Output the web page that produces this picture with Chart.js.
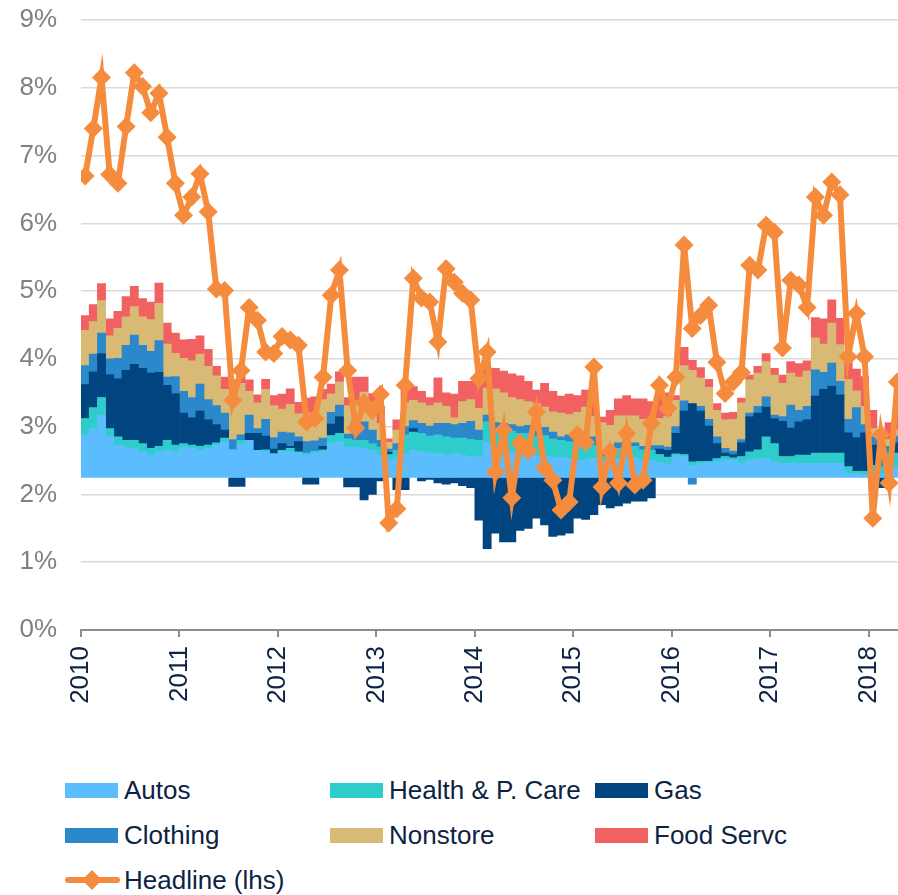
<!DOCTYPE html>
<html>
<head>
<meta charset="utf-8">
<script src="https://cdn.jsdelivr.net/npm/chart.js@4.4.1/dist/chart.umd.min.js"></script>
<style>
  html, body { margin: 0; padding: 0; background: #fff; overflow: hidden; }
  #wrap { position: relative; width: 898px; height: 895px; overflow: hidden; }
  #c { position: absolute; left: 0; top: 0; }
  .item { position: absolute; height: 30px; display: flex; align-items: center;
          font: 26px "Liberation Sans", Arial, sans-serif; color: #0d2344; white-space: nowrap; }
  .box { width: 53px; height: 15px; margin-right: 6px; }
  .sw { position: relative; width: 55px; height: 30px; margin-right: 4px; }
  .sw .ln { position: absolute; left: 0; right: 0; top: 12px; height: 6px; background: #f58b3c; border-radius: 3px; }
  .sw .dm { position: absolute; left: 20px; top: 8px; width: 14px; height: 14px; background: #f58b3c; transform: rotate(45deg); }
</style>
</head>
<body>
<div id="wrap">
  <canvas id="c" width="911" height="720"></canvas>
  <div id="legend"></div>
</div>
<script>
// monthly, Jan 2010 - Apr 2018
const yearLabels = ['2010', '2011', '2012', '2013', '2014', '2015', '2016', '2017', '2018'];

const headline = [
  6.70, 7.40, 8.15, 6.72, 6.59, 7.43, 8.22, 8.02, 7.63, 7.92, 7.27, 6.59,
  6.12, 6.39, 6.73, 6.17, 5.03, 5.01, 3.39, 3.83, 4.76, 4.57, 4.10, 4.08,
  4.33, 4.28, 4.20, 3.07, 3.12, 3.73, 4.94, 5.31, 3.83, 2.98, 3.35, 3.24,
  3.48, 1.58, 1.79, 3.61, 5.19, 4.90, 4.84, 4.25, 5.33, 5.13, 4.97, 4.87,
  3.71, 4.10, 2.33, 2.95, 1.95, 2.76, 2.65, 3.22, 2.39, 2.21, 1.77, 1.89,
  2.88, 2.77, 3.88, 2.11, 2.63, 2.17, 2.90, 2.14, 2.21, 3.05, 3.61, 3.27,
  3.73, 5.68, 4.45, 4.64, 4.79, 3.95, 3.49, 3.66, 3.80, 5.38, 5.31, 5.97,
  5.87, 4.16, 5.16, 5.09, 4.76, 6.39, 6.12, 6.61, 6.42, 4.03, 4.67, 4.03,
  1.65, 2.88, 2.17, 3.66
];

// contributions in pp, stacked on a 2.25% base
const barBase = 2.25;

const autos = [
  0.63, 0.72, 0.92, 0.60, 0.48, 0.45, 0.43, 0.38, 0.33, 0.38, 0.40, 0.38,
  0.45, 0.43, 0.41, 0.43, 0.48, 0.53, 0.41, 0.50, 0.55, 0.40, 0.38, 0.35,
  0.38, 0.38, 0.36, 0.33, 0.36, 0.38, 0.50, 0.53, 0.45, 0.45, 0.43, 0.40,
  0.33, 0.26, 0.30, 0.35, 0.40, 0.38, 0.36, 0.36, 0.33, 0.36, 0.33, 0.31,
  0.30, 0.52, 0.45, 0.40, 0.38, 0.40, 0.35, 0.33, 0.32, 0.30, 0.30, 0.28,
  0.26, 0.26, 0.28, 0.23, 0.26, 0.28, 0.28, 0.28, 0.26, 0.25, 0.22, 0.20,
  0.33, 0.31, 0.18, 0.21, 0.22, 0.23, 0.26, 0.26, 0.21, 0.26, 0.27, 0.28,
  0.23, 0.21, 0.21, 0.21, 0.21, 0.21, 0.21, 0.21, 0.21, 0.06, 0.06, 0.04,
  0.06, 0.06, 0.16, 0.16
];
const health = [
  0.24, 0.31, 0.26, 0.12, 0.12, 0.10, 0.12, 0.12, 0.10, 0.08, 0.15, 0.10,
  0.05, 0.05, 0.05, 0.05, 0.03, 0.05, 0.00, 0.05, 0.00, 0.00, 0.03, 0.00,
  0.02, 0.05, 0.02, 0.03, 0.03, 0.03, 0.12, 0.12, 0.12, 0.10, 0.12, 0.10,
  0.12, 0.08, 0.10, 0.28, 0.27, 0.27, 0.25, 0.27, 0.27, 0.22, 0.25, 0.25,
  0.25, 0.30, 0.28, 0.30, 0.30, 0.25, 0.30, 0.28, 0.30, 0.27, 0.25, 0.25,
  0.25, 0.25, 0.20, 0.08, 0.05, 0.15, 0.20, 0.18, 0.15, 0.15, 0.12, 0.10,
  0.02, 0.03, 0.05, 0.03, 0.02, 0.05, 0.05, 0.03, 0.10, 0.12, 0.14, 0.32,
  0.27, 0.10, 0.10, 0.12, 0.12, 0.15, 0.15, 0.15, 0.15, 0.10, 0.03, 0.05,
  0.12, 0.10, 0.20, 0.20
];
const gas = [
  0.50, 0.53, 0.65, 0.80, 0.86, 1.03, 1.12, 1.11, 1.11, 1.09, 0.81, 0.76,
  0.45, 0.40, 0.52, 0.37, 0.27, 0.12, -0.13, -0.13, 0.10, 0.25, 0.20, 0.07,
  0.10, 0.03, 0.15, -0.10, -0.10, 0.05, 0.17, 0.25, -0.14, -0.14, -0.33, -0.25,
  -0.05, 0.03, -0.18, -0.18, 0.05, -0.05, -0.03, -0.08, -0.10, -0.08, -0.12, -0.15,
  -0.63, -1.05, -0.82, -0.95, -0.95, -0.78, -0.75, -0.60, -0.70, -0.87, -0.85, -0.82,
  -0.60, -0.62, -0.55, -0.40, -0.45, -0.42, -0.38, -0.35, -0.35, -0.30, 0.08, 0.10,
  0.30, 0.64, 0.86, 0.74, 0.52, 0.22, 0.05, 0.05, 0.20, 0.52, 0.54, 0.44,
  0.37, 0.52, 0.42, 0.49, 0.52, 0.84, 0.94, 0.99, 0.86, 0.50, 0.50, 0.57,
  0.30, -0.15, -0.10, 0.15
];
const clothing = [
  0.28, 0.26, 0.30, 0.23, 0.30, 0.37, 0.43, 0.34, 0.32, 0.47, 0.12, 0.25,
  0.32, 0.30, 0.40, 0.30, 0.28, 0.25, 0.15, 0.08, 0.27, 0.07, 0.25, 0.17,
  0.17, 0.20, 0.07, 0.17, 0.15, 0.12, 0.17, 0.17, 0.07, 0.28, 0.27, 0.20,
  0.10, 0.05, 0.10, 0.12, 0.12, 0.15, 0.15, 0.17, 0.20, 0.20, 0.22, 0.27,
  0.15, 0.10, 0.08, 0.10, 0.10, 0.10, 0.12, 0.08, 0.12, 0.10, 0.05, 0.10,
  0.05, 0.08, 0.12, 0.05, 0.08, 0.08, 0.05, 0.05, 0.05, 0.07, 0.05, 0.05,
  0.10, 0.15, -0.10, 0.07, 0.10, 0.10, 0.07, 0.05, 0.05, 0.05, 0.10, 0.15,
  0.05, 0.07, 0.34, 0.17, 0.20, 0.39, 0.25, 0.34, 0.20, 0.20, 0.44, 0.12,
  0.12, 0.10, 0.10, 0.10
];
const nonstore = [
  0.52, 0.48, 0.48, 0.34, 0.44, 0.42, 0.42, 0.42, 0.47, 0.55, 0.49, 0.34,
  0.49, 0.54, 0.44, 0.49, 0.44, 0.35, 0.69, 0.76, 0.35, 0.38, 0.44, 0.47,
  0.34, 0.42, 0.34, 0.42, 0.40, 0.57, 0.27, 0.34, 0.42, 0.30, 0.44, 0.42,
  0.25, 0.10, 0.20, 0.35, 0.30, 0.30, 0.30, 0.30, 0.25, 0.10, 0.32, 0.32,
  0.32, 0.40, 0.50, 0.45, 0.40, 0.40, 0.35, 0.40, 0.30, 0.30, 0.35, 0.30,
  0.40, 0.45, 0.30, 0.45, 0.38, 0.40, 0.38, 0.40, 0.40, 0.35, 0.40, 0.45,
  0.39, 0.52, 0.49, 0.42, 0.47, 0.39, 0.42, 0.47, 0.54, 0.49, 0.49, 0.52,
  0.59, 0.49, 0.47, 0.49, 0.52, 0.47, 0.42, 0.59, 0.54, 0.59, 0.25, 0.27,
  0.12, 0.10, 0.10, 0.10
];
const foodServc = [
  0.22, 0.25, 0.25, 0.25, 0.25, 0.30, 0.30, 0.27, 0.26, 0.30, 0.31, 0.30,
  0.27, 0.32, 0.27, 0.25, 0.14, 0.18, 0.19, 0.20, 0.17, 0.12, 0.15, 0.15,
  0.22, 0.23, 0.17, 0.22, 0.25, 0.15, 0.15, 0.15, 0.12, 0.35, 0.22, 0.12,
  0.25, 0.05, 0.15, 0.25, 0.20, 0.17, 0.12, 0.37, 0.20, 0.35, 0.30, 0.27,
  0.35, 0.30, 0.30, 0.32, 0.35, 0.35, 0.30, 0.20, 0.35, 0.30, 0.25, 0.30,
  0.25, 0.25, 0.28, 0.08, 0.22, 0.25, 0.30, 0.25, 0.30, 0.30, 0.35, 0.35,
  0.07, 0.27, 0.15, 0.15, 0.12, 0.10, 0.10, 0.10, 0.07, 0.07, 0.10, 0.12,
  0.10, 0.12, 0.17, 0.20, 0.15, 0.30, 0.37, 0.34, 0.39, 0.27, 0.32, 0.44,
  0.27, 0.25, 0.25, 0.25
];

const monthPos = headline.map((_, i) => i + 0.5);

Chart.defaults.font.family = '"Liberation Sans", Arial, sans-serif';
Chart.defaults.font.size = 26;

function bar(label, data, color) {
  return {
    type: 'bar', label: label, data: data, yAxisID: 'yb', order: 1,
    backgroundColor: color, borderWidth: 0,
    barPercentage: 1, categoryPercentage: 1
  };
}

const chart = new Chart(document.getElementById('c'), {
  data: {
    labels: monthPos,
    datasets: [
      bar('Autos', autos, '#5bbdfd'),
      bar('Health & P. Care', health, '#2ecccb'),
      bar('Gas', gas, '#014580'),
      bar('Clothing', clothing, '#2a88cb'),
      bar('Nonstore', nonstore, '#d8ba74'),
      bar('Food Servc', foodServc, '#f26161'),
      {
        type: 'line', label: 'Headline (lhs)', data: headline, yAxisID: 'y', order: 0,
        borderColor: '#f58b3c', backgroundColor: '#f58b3c', borderWidth: 6,
        pointStyle: 'rectRot', pointRadius: 9.5, pointBorderWidth: 0,
        pointBackgroundColor: '#f58b3c', tension: 0
      }
    ]
  },
  options: {
    responsive: false,
    animation: false,
    devicePixelRatio: 1,
    layout: { padding: { top: 20, left: 0, right: 0, bottom: 0 } },
    scales: {
      x: {
        type: 'linear', min: 0, max: monthPos.length, offset: false, stacked: true,
        afterBuildTicks: s => { s.ticks = yearLabels.map((_, k) => ({ value: k * 12 })); },
        afterFit: s => { s.height = 90; s.paddingLeft = 0; s.paddingRight = 0; },
        border: { display: true, color: '#8c8c8c', width: 2 },
        grid: { offset: false, drawOnChartArea: false, drawTicks: true, tickLength: 7, color: '#8c8c8c', lineWidth: 2 },
        ticks: {
          autoSkip: false, maxRotation: 90, minRotation: 90, padding: 9,
          color: '#0d2344', font: { size: 26 },
          callback: v => yearLabels[Math.round(v / 12)]
        }
      },
      y: {
        min: 0, max: 9,
        afterFit: s => { s.width = 81; s.paddingTop = 0; s.paddingBottom = 0; },
        border: { display: false },
        grid: { color: '#dadada', lineWidth: 1.5, drawTicks: false },
        ticks: { stepSize: 1, padding: 24, color: '#808080', font: { size: 26 }, callback: v => v + '%' }
      },
      yb: {
        display: false, stacked: true,
        min: -barBase, max: 9 - barBase
      }
    },
    plugins: {
      legend: { display: false },
      tooltip: { enabled: false }
    }
  }
});

// legend in three columns under the chart
const legendEl = document.getElementById('legend');
const colX = [65, 330, 595];
chart.data.datasets.forEach((ds, i) => {
  const item = document.createElement('div');
  item.className = 'item';
  item.style.left = colX[i % 3] + 'px';
  item.style.top = (775 + Math.floor(i / 3) * 45) + 'px';
  if (ds.type === 'line') {
    item.innerHTML = '<div class="sw"><div class="ln"></div><div class="dm"></div></div>';
  } else {
    const box = document.createElement('div');
    box.className = 'box';
    box.style.background = ds.backgroundColor;
    item.appendChild(box);
  }
  item.appendChild(document.createTextNode(ds.label));
  legendEl.appendChild(item);
});
</script>
</body>
</html>
